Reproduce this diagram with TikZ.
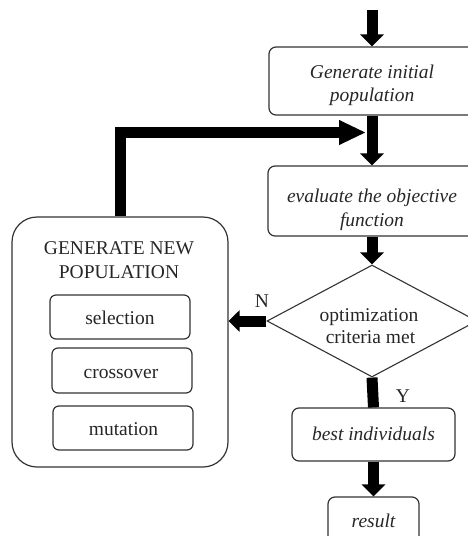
\documentclass[tikz,border=0pt]{standalone}
\usepackage{fontspec}
\setmainfont{Liberation Serif}
\usetikzlibrary{arrows.meta,shapes.geometric}
\begin{document}
\begin{tikzpicture}[x=1pt,y=-1pt,
  box/.style={draw=black!80, line width=1.2pt, rounded corners=7pt, inner sep=0pt},
  txt/.style={anchor=base, inner sep=0pt, text=black!85, font=\fontsize{19.5}{24}\selectfont},
  itxt/.style={anchor=base, inner sep=0pt, text=black!85, font=\fontsize{19.5}{24}\selectfont\itshape},
  flow/.style={line width=11pt, -{Triangle[width=23pt,length=12pt]}},
]
\useasboundingbox (0,0) rectangle (468,536);
\clip (0,0) rectangle (468,536);

% main column boxes
\node[box, minimum width=206pt, minimum height=68pt] (init) at (372,81) {};
\node[box, minimum width=208pt, minimum height=70pt] (eval) at (372,201) {};
\node[draw=black!80, line width=1.1pt, diamond, aspect=1.875, inner sep=0pt,
      minimum width=210pt, minimum height=112pt] (crit) at (372,321) {};
\node[box, minimum width=163pt, minimum height=53pt] (best) at (373.5,434.5) {};
\node[box, minimum width=91pt, minimum height=53pt] (res) at (373.5,523.5) {};

% generate new population
\node[box, rounded corners=25pt, minimum width=216pt, minimum height=250pt] (newpop) at (120,342) {};
\node[box, rounded corners=6pt, minimum width=140pt, minimum height=44pt] (sel) at (120,317) {};
\node[box, rounded corners=6pt, minimum width=140pt, minimum height=45pt] (cross) at (122,370.5) {};
\node[box, rounded corners=6pt, minimum width=140pt, minimum height=44pt] (mut) at (123,428) {};

% texts
\node[itxt] (t1a) at (372,78) {Generate initial};
\node[itxt] (t1b) at (372,101) {population};
\node[itxt] (t2a) at (372,202) {evaluate the objective};
\node[itxt] (t2b) at (372,226) {function};
\node[txt] (t3a) at (369,321) {optimization};
\node[txt] (t3b) at (370.5,343) {criteria met};
\node[itxt] (t4) at (373.5,440) {best individuals};
\node[itxt] (t5) at (373.5,527) {result};
\node[txt] (g1) at (119,254) {GENERATE NEW};
\node[txt] (g2) at (119,278) {POPULATION};
\node[txt] (ts) at (120,324) {selection};
\node[txt] (tc) at (121,378) {crossover};
\node[txt] (tm) at (123.5,435) {mutation};
\node[txt] (lN) at (262,307) {N};
\node[txt] (lY) at (403,402) {Y};

% connectors
\coordinate (start) at (372,10);
\coordinate (join) at (366,132.5);
\draw[flow] (start) -- (init.north);
\draw[flow] (init.south) -- (eval.north);
\draw[line width=11pt, -{Triangle[width=23pt,length=27pt]}] (newpop.north) |- (join);
\draw[flow] (eval.south) -- (crit.north);
\draw[line width=11pt, -{Triangle[width=21pt,length=11pt]}] (crit.west) -- (newpop.east |- crit.west);
\draw[line width=11pt] (crit.south) -- (best.north);
\draw[flow] (best.south) -- (res.north);
\end{tikzpicture}
\end{document}
